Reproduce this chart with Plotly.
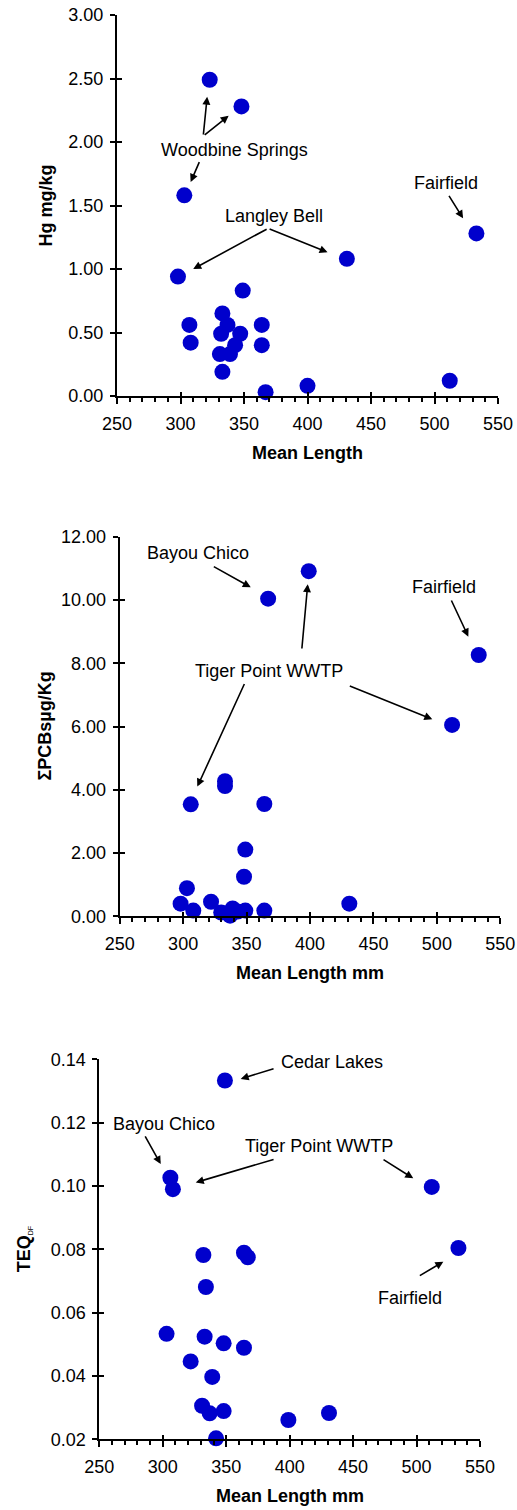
import plotly.graph_objects as go

# ---------------- data ----------------
len_hg = [323, 348, 303, 533, 431, 298, 349, 333, 307, 337, 364, 332, 347, 308, 343, 364, 331, 339, 333, 367, 400, 512]
hg = [2.49, 2.28, 1.58, 1.28, 1.08, 0.94, 0.83, 0.65, 0.56, 0.56, 0.56, 0.49, 0.49, 0.42, 0.40, 0.40, 0.33, 0.33, 0.19, 0.03, 0.08, 0.12]

len_pcb = [367, 399, 533, 512, 333, 333, 306, 364, 349, 348, 303, 298, 322, 308, 330, 337, 339, 343, 349, 364, 431, 335]
pcb = [10.04, 10.91, 8.26, 6.05, 4.27, 4.12, 3.54, 3.55, 2.11, 1.25, 0.89, 0.40, 0.46, 0.18, 0.12, 0.02, 0.25, 0.15, 0.18, 0.18, 0.40, 0.10]

len_teq = [349, 306, 308, 512, 533, 332, 364, 367, 334, 303, 333, 348, 364, 322, 339, 331, 337, 348, 399, 431, 298, 342]
teq = [0.1333, 0.1026, 0.0990, 0.0997, 0.0804, 0.0782, 0.0789, 0.0775, 0.0681, 0.0533, 0.0524, 0.0503, 0.0489, 0.0446, 0.0397, 0.0306, 0.0282, 0.0289, 0.0261, 0.0283, 0.0196, 0.0203]

x_ticks = [250, 300, 350, 400, 450, 500, 550]
hg_ticks = [0.0, 0.5, 1.0, 1.5, 2.0, 2.5, 3.0]
pcb_ticks = [0, 2, 4, 6, 8, 10, 12]
teq_ticks = [0.02, 0.04, 0.06, 0.08, 0.10, 0.12, 0.14]

x_titles = ["Mean Length", "Mean Length mm", "Mean Length mm"]
y_titles = ["<b>Hg mg/kg</b>", "<b>ΣPCBsµg/Kg</b>",
            "<b>TEQ</b><sub><span style='font-size:7px'>DF</span></sub>"]

# labels: (panel, text, x, y)
labels = [
    (1, "Woodbine Springs", 342.6, 1.94),
    (1, "Langley Bell", 373.5, 1.42),
    (1, "Fairfield", 509.4, 1.675),
    (2, "Bayou Chico", 312, 11.48),
    (2, "Fairfield", 505.9, 10.40),
    (2, "Tiger Point WWTP", 367.9, 7.76),
    (3, "Cedar Lakes", 433.1, 0.1392),
    (3, "Bayou Chico", 301.2, 0.1196),
    (3, "Tiger Point WWTP", 423.4, 0.1127),
    (3, "Fairfield", 494.8, 0.0646),
]
# arrows: (panel, tail_x, tail_y, head_x, head_y)
arrows = [
    (1, 317.9, 2.047, 321.0, 2.357),
    (1, 317.9, 2.047, 337.9, 2.207),
    (1, 315.3, 1.853, 308.0, 1.685),
    (1, 369.0, 1.32, 310.0, 1.00),
    (1, 369.0, 1.32, 415.8, 1.131),
    (1, 510.7, 1.588, 522.5, 1.399),
    (2, 323.0, 11.08, 353.3, 10.40),
    (2, 510.9, 10.03, 524.8, 8.84),
    (2, 393.5, 8.42, 398.2, 10.50),
    (2, 430.2, 7.30, 496.4, 6.23),
    (2, 348.8, 7.39, 311.2, 4.10),
    (3, 388.5, 0.1372, 361.4, 0.1338),
    (3, 285.5, 0.1161, 298.4, 0.1069),
    (3, 388.5, 0.1085, 326.0, 0.1011),
    (3, 472.8, 0.1086, 497.4, 0.1024),
    (3, 501.4, 0.0714, 521.1, 0.0761),
]

# ---------------- layout geometry (page pixels) ----------------
W, H = 517, 1510
panels = [
    dict(x0=117.0, x1=498.0, ytop=15.0, ybot=396.0, yr=[0, 3], yt=hg_ticks, xs=len_hg, ys=hg, ytitle_x=45),
    dict(x0=119.7, x1=500.3, ytop=536.7, ybot=916.3, yr=[0, 12], yt=pcb_ticks, xs=len_pcb, ys=pcb, ytitle_x=44),
    dict(x0=99.3, x1=480.0, ytop=1059.3, ybot=1439.3, yr=[0.02, 0.14], yt=teq_ticks, xs=len_teq, ys=teq, ytitle_x=24),
]


def px(x):
    return x / W


def py(y):
    return 1 - y / H


FONT = "Arial, 'Liberation Sans', sans-serif"
fig = go.Figure()
layout = dict(width=W, height=H, margin=dict(l=0, r=0, t=0, b=0, autoexpand=False),
              paper_bgcolor="white", plot_bgcolor="white", showlegend=False,
              font=dict(family=FONT, size=18, color="black"))
annotations = []

for i, p in enumerate(panels, start=1):
    o = i + 3
    xs = "" if i == 1 else str(i)
    xd = [px(p["x0"]), px(p["x1"])]
    yd = [py(p["ybot"]), py(p["ytop"])]
    common_x = dict(range=[250, 550], tickvals=x_ticks, showgrid=False, zeroline=False, automargin=False)
    common_y = dict(range=p["yr"], tickvals=p["yt"], showgrid=False, zeroline=False, automargin=False)
    layout[f"xaxis{xs}"] = dict(domain=xd, anchor=f"y{xs}", showline=True, linecolor="black", linewidth=2,
                                ticks="outside", ticklen=6, tickwidth=2, tickcolor="black",
                                tickfont=dict(size=18), ticklabelstandoff=4, ticklabeloverflow="allow",
                                minor=dict(ticks="outside", dtick=10, ticklen=4, tickwidth=1.5, tickcolor="black"),
                                **common_x)
    layout[f"yaxis{xs}"] = dict(domain=yd, anchor=f"x{xs}", showline=True, linecolor="black", linewidth=2,
                                ticks="outside", ticklen=5, tickwidth=2, tickcolor="black",
                                tickformat=".2f", tickfont=dict(size=18), ticklabelstandoff=3,
                                ticklabeloverflow="allow", **common_y)
    # overlay axes to make major ticks cross the axis line
    layout[f"xaxis{o}"] = dict(overlaying=f"x{xs}", anchor=f"y{xs}", showline=False, ticks="inside",
                               ticklen=4, tickwidth=2, tickcolor="black", showticklabels=False, **common_x)
    layout[f"yaxis{o}"] = dict(overlaying=f"y{xs}", anchor=f"x{xs}", showline=False, ticks="inside",
                               ticklen=5, tickwidth=2, tickcolor="black", showticklabels=False, **common_y)
    fig.add_trace(go.Scatter(x=[p["xs"][0]], y=[p["ys"][0]], xaxis=f"x{o}", yaxis=f"y{o}",
                             mode="markers", marker=dict(opacity=0), hoverinfo="skip"))
    fig.add_trace(go.Scatter(x=p["xs"], y=p["ys"], xaxis=f"x{xs}", yaxis=f"y{xs}", mode="markers",
                             marker=dict(size=16, color="#0000CC", line=dict(width=0)), cliponaxis=False))
    # axis titles
    annotations.append(dict(xref="paper", yref="paper", x=px((p["x0"] + p["x1"]) / 2), y=py(p["ybot"] + 57),
                            text=f"<b>{x_titles[i-1]}</b>", showarrow=False, xanchor="center", yanchor="middle",
                            font=dict(size=18)))
    annotations.append(dict(xref="paper", yref="paper", x=px(p["ytitle_x"]), y=py((p["ytop"] + p["ybot"]) / 2),
                            text=y_titles[i-1], showarrow=False, textangle=-90, xanchor="center", yanchor="middle",
                            font=dict(size=18)))

for (pn, txt, x, y) in labels:
    s = "" if pn == 1 else str(pn)
    annotations.append(dict(xref=f"x{s}", yref=f"y{s}", x=x, y=y, text=txt, showarrow=False,
                            xanchor="center", yanchor="middle", font=dict(size=18)))
for (pn, tx, ty, hx, hy) in arrows:
    s = "" if pn == 1 else str(pn)
    annotations.append(dict(xref=f"x{s}", yref=f"y{s}", axref=f"x{s}", ayref=f"y{s}",
                            x=hx, y=hy, ax=tx, ay=ty, text="", showarrow=True,
                            arrowhead=2, arrowsize=1, arrowwidth=1.6, arrowcolor="black", standoff=0))

layout["annotations"] = annotations
fig.update_layout(**layout)
fig.write_html("out.html", config={"displayModeBar": False},
               post_script="document.body.style.margin='0';")
